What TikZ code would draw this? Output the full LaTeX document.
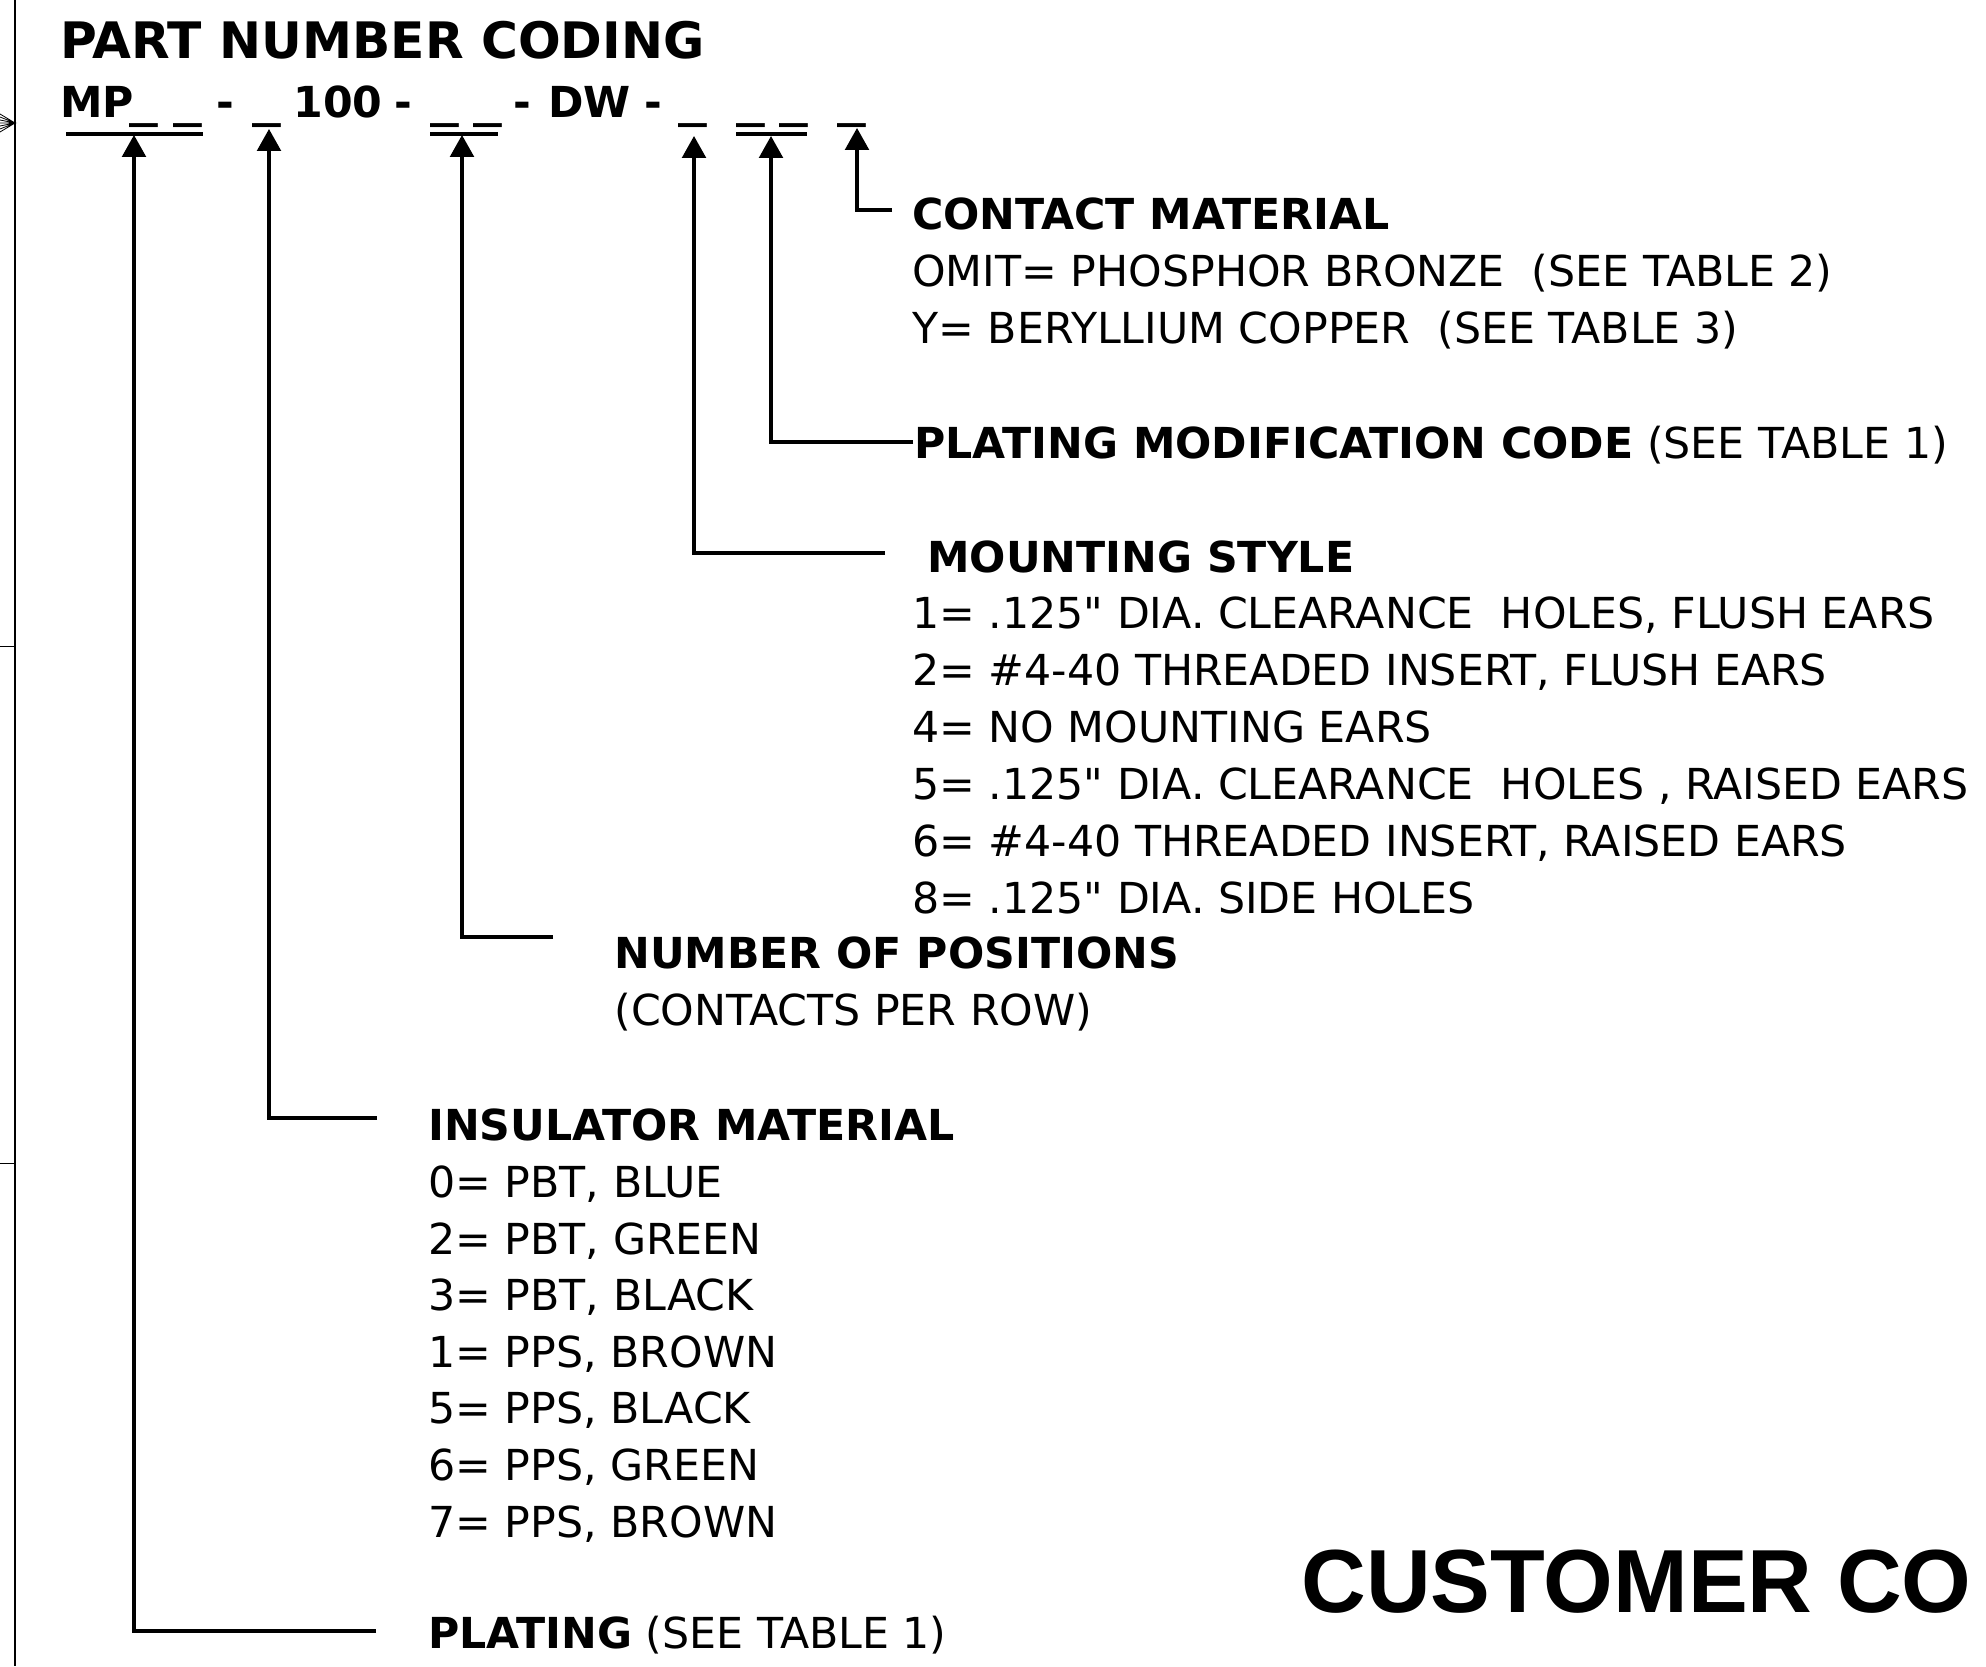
\documentclass[tikz,border=0pt]{standalone}
\usepackage{fontspec}
\setmainfont{DejaVu Sans}
\newfontfamily\barfont[FakeStretch=1.35]{DejaVu Sans}
\newfontfamily\arialfont{Liberation Sans}
\usetikzlibrary{arrows.meta}

\begin{document}
\begin{tikzpicture}[x=0.02cm,y=-0.02cm,
    lbl/.style={anchor=base west,inner sep=0pt,font=\fontsize{24.3}{29}\selectfont},
    hdr/.style={lbl,font=\fontsize{24.3}{29}\selectfont\bfseries},
    ttl/.style={lbl,font=\fontsize{28.6}{34}\selectfont\bfseries},
    bar/.style={lbl,font=\fontsize{24.3}{29}\selectfont\barfont\bfseries},
    lead/.style={line width=1.8pt},
    arr/.style={lead,-{Triangle[length=12.5pt,width=13.5pt]}},
    field/.style={line width=1.8pt},
    frame/.style={line width=1.7pt}]

    \useasboundingbox (0,0) rectangle (1986,1666);

    % sheet border on the left
    \draw[frame] (15,0) -- (15,1666);
    \draw[thin] (0,646) -- (15,646);
    \draw[thin] (0,1163) -- (15,1163);
    \draw[line width=0.45pt] (0,114) -- (15,123) -- (0,132)
                     (0,117) -- (15,123) -- (0,129)
                     (0,120) -- (15,123) -- (0,126)
                     (0,123) -- (15,123);

    % title and code line
    \node[ttl] (title) at (60,59) {PART NUMBER CODING};

    \node[hdr] (mp) at (60,117) {MP};
    \node[bar] (u1) at (129,117) {\_};
    \node[bar] (u2) at (173,117) {\_};
    \node[hdr] (d1) at (216,117) {-};
    \node[bar] (u3) at (252,117) {\_};
    \node[hdr] (n100) at (293,117) {100};
    \node[hdr] (d2) at (394,117) {-};
    \node[bar] (u4) at (430,117) {\_};
    \node[bar] (u5) at (473,117) {\_};
    \node[hdr] (d3) at (513,117) {-};
    \node[hdr] (dw) at (548,117) {DW};
    \node[hdr] (d4) at (644,117) {-};
    \node[bar] (u6) at (678,117) {\_};
    \node[bar] (u7) at (736,117) {\_};
    \node[bar] (u8) at (779,117) {\_};
    \node[bar] (u9) at (837,117) {\_};

    \draw[field] (66,134) -- (203,134);
    \draw[field] (430,134) -- (498,134);
    \draw[field] (736,134) -- (807,134);

    \coordinate (t1) at (134,135);
    \coordinate (t2) at (269,129);
    \coordinate (t3) at (462,135);
    \coordinate (t4) at (694,136);
    \coordinate (t5) at (771,136);
    \coordinate (t6) at (857,128);

    % contact material
    \node[hdr] (cm) at (912,229) {CONTACT MATERIAL};
    \node[lbl] (cm1) at (912,286) {OMIT= PHOSPHOR BRONZE~~(SEE TABLE 2)};
    \node[lbl] (cm2) at (912,343) {Y= BERYLLIUM COPPER~~(SEE TABLE 3)};

    % plating modification
    \node[lbl] (pm) at (914,458) {\textbf{PLATING MODIFICATION CODE} (SEE TABLE 1)};

    % mounting style
    \node[hdr] (ms) at (927,572) {MOUNTING STYLE};
    \node[lbl] (ms1) at (912,628) {1= .125\textquotedbl{} DIA. CLEARANCE~~HOLES, FLUSH EARS};
    \node[lbl] (ms2) at (912,685) {2= \#4-40 THREADED INSERT, FLUSH EARS};
    \node[lbl] (ms3) at (912,742) {4= NO MOUNTING EARS};
    \node[lbl] (ms4) at (912,799) {5= .125\textquotedbl{} DIA. CLEARANCE~~HOLES , RAISED EARS};
    \node[lbl] (ms5) at (912,856) {6= \#4-40 THREADED INSERT, RAISED EARS};
    \node[lbl] (ms6) at (912,913) {8= .125\textquotedbl{} DIA. SIDE HOLES};

    % number of positions
    \node[hdr] (np) at (614,968) {NUMBER OF POSITIONS};
    \node[lbl] (np1) at (614,1025) {(CONTACTS PER ROW)};

    % insulator material
    \node[hdr] (im) at (428,1140) {INSULATOR MATERIAL};
    \node[lbl] (im1) at (428,1197) {0= PBT, BLUE};
    \node[lbl] (im2) at (428,1254) {2= PBT, GREEN};
    \node[lbl] (im3) at (428,1310) {3= PBT, BLACK};
    \node[lbl] (im4) at (428,1367) {1= PPS, BROWN};
    \node[lbl] (im5) at (428,1423) {5= PPS, BLACK};
    \node[lbl] (im6) at (428,1480) {6= PPS, GREEN};
    \node[lbl] (im7) at (428,1537) {7= PPS, BROWN};

    % plating
    \node[lbl] (pl) at (428,1648) {\textbf{PLATING} (SEE TABLE 1)};

    \node[anchor=base west,inner sep=0pt,font=\fontsize{51}{60}\selectfont\arialfont\bfseries]
        (cust) at (1301,1612) {CUSTOMER CO};

    % leaders
    \coordinate (e1) at (376,1631);
    \coordinate (e2) at (377,1118);
    \coordinate (e3) at (553,937);
    \coordinate (e4) at (885,553);
    \coordinate (e5) at (913,442);
    \coordinate (e6) at (892,210);

    \draw[arr] (e1) -| (t1);
    \draw[arr] (e2) -| (t2);
    \draw[arr] (e3) -| (t3);
    \draw[arr] (e4) -| (t4);
    \draw[arr] (e5) -| (t5);
    \draw[arr] (e6) -| (t6);

\end{tikzpicture}
\end{document}
